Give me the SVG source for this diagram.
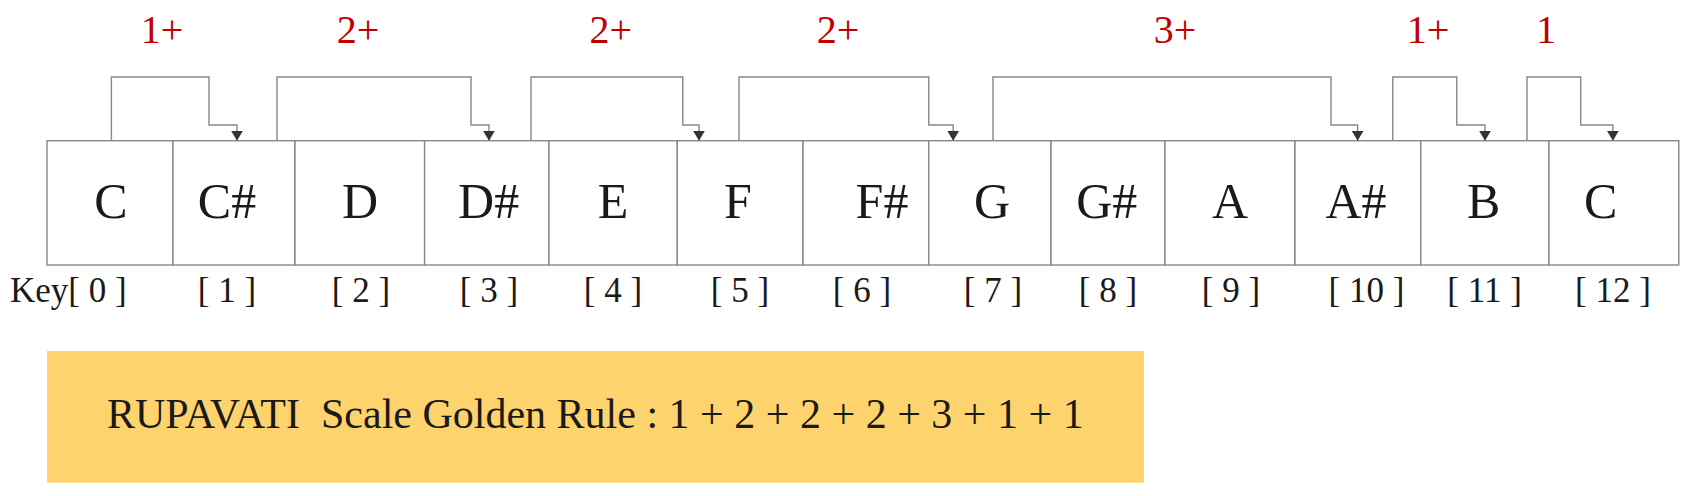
<svg xmlns="http://www.w3.org/2000/svg" width="1694" height="496" viewBox="0 0 1694 496">
<style>
.key{fill:#fff;stroke:#888;stroke-width:1.4}
text{font-family:'Liberation Serif','Times New Roman',Times,'DejaVu Serif',serif}
.note{font-size:50px;fill:#1a1a1a;text-anchor:middle}
.idx{font-size:35px;fill:#1a1a1a;text-anchor:middle}
.step{font-size:40px;fill:#c00000;text-anchor:middle}
.conn{fill:none;stroke:#888;stroke-width:1.4}
.rule{font-size:42px;fill:#1a1a1a;white-space:pre}
</style>
<defs>
<marker id="arr" viewBox="0 0 10 12" refX="10" refY="6" markerWidth="10" markerHeight="12" markerUnits="userSpaceOnUse" orient="auto">
<path d="M0,0 L10,6 L0,12 Z" fill="#333"/>
</marker>
</defs>
<rect width="1694" height="496" fill="#fff"/>
<g id="keys">
<g id="k0"><rect class="key" x="47" y="140.7" width="126" height="124.3"/><text class="note" x="111" y="218">C</text></g>
<g id="k1"><rect class="key" x="173" y="140.7" width="122" height="124.3"/><text class="note" x="227" y="218">C#</text></g>
<g id="k2"><rect class="key" x="295" y="140.7" width="129.6" height="124.3"/><text class="note" x="360" y="218">D</text></g>
<g id="k3"><rect class="key" x="424.6" y="140.7" width="124.4" height="124.3"/><text class="note" x="488.6" y="218">D#</text></g>
<g id="k4"><rect class="key" x="549" y="140.7" width="128.3" height="124.3"/><text class="note" x="613" y="218">E</text></g>
<g id="k5"><rect class="key" x="677.3" y="140.7" width="125.7" height="124.3"/><text class="note" x="738" y="218">F</text></g>
<g id="k6"><rect class="key" x="803" y="140.7" width="125.8" height="124.3"/><text class="note" x="882" y="218">F#</text></g>
<g id="k7"><rect class="key" x="928.8" y="140.7" width="122.2" height="124.3"/><text class="note" x="992" y="218">G</text></g>
<g id="k8"><rect class="key" x="1051" y="140.7" width="114" height="124.3"/><text class="note" x="1106.7" y="218">G#</text></g>
<g id="k9"><rect class="key" x="1165" y="140.7" width="130" height="124.3"/><text class="note" x="1230" y="218">A</text></g>
<g id="k10"><rect class="key" x="1295" y="140.7" width="125.8" height="124.3"/><text class="note" x="1356" y="218">A#</text></g>
<g id="k11"><rect class="key" x="1420.8" y="140.7" width="128.2" height="124.3"/><text class="note" x="1483.7" y="218">B</text></g>
<g id="k12"><rect class="key" x="1549" y="140.7" width="129.8" height="124.3"/><text class="note" x="1600.8" y="218">C</text></g>
</g>
<g id="indices">
<text class="idx" x="10" y="302" style="text-anchor:start">Key[ 0 ]</text>
<text class="idx" x="227" y="302">[ 1 ]</text>
<text class="idx" x="361" y="302">[ 2 ]</text>
<text class="idx" x="489" y="302">[ 3 ]</text>
<text class="idx" x="613" y="302">[ 4 ]</text>
<text class="idx" x="740" y="302">[ 5 ]</text>
<text class="idx" x="862" y="302">[ 6 ]</text>
<text class="idx" x="993" y="302">[ 7 ]</text>
<text class="idx" x="1108" y="302">[ 8 ]</text>
<text class="idx" x="1231" y="302">[ 9 ]</text>
<text class="idx" x="1366.5" y="302">[ 10 ]</text>
<text class="idx" x="1484.6" y="302">[ 11 ]</text>
<text class="idx" x="1613" y="302">[ 12 ]</text>
</g>
<g id="connectors">
<path class="conn" marker-end="url(#arr)" d="M111.4,140.7 V77 H209 V125 H237 V140.7"/>
<path class="conn" marker-end="url(#arr)" d="M277,140.7 V77 H471 V125 H489 V140.7"/>
<path class="conn" marker-end="url(#arr)" d="M531,140.7 V77 H682.8 V125 H699 V140.7"/>
<path class="conn" marker-end="url(#arr)" d="M739,140.7 V77 H928.8 V125 H953.2 V140.7"/>
<path class="conn" marker-end="url(#arr)" d="M993,140.7 V77 H1331 V125 H1357.6 V140.7"/>
<path class="conn" marker-end="url(#arr)" d="M1392.8,140.7 V77 H1456.8 V125 H1485 V140.7"/>
<path class="conn" marker-end="url(#arr)" d="M1527,140.7 V77 H1580.7 V125 H1612.9 V140.7"/>
</g>
<g id="steps">
<text class="step" x="162" y="43">1+</text>
<text class="step" x="358" y="43">2+</text>
<text class="step" x="610.7" y="43">2+</text>
<text class="step" x="838" y="43">2+</text>
<text class="step" x="1175" y="43">3+</text>
<text class="step" x="1428" y="43">1+</text>
<text class="step" x="1546" y="43">1</text>
</g>
<g id="rule">
<rect x="47" y="351" width="1097" height="131.7" fill="#fdd36d"/>
<text class="rule" x="107" y="428">RUPAVATI  Scale Golden Rule : 1 + 2 + 2 + 2 + 3 + 1 + 1</text>
</g>
</svg>
